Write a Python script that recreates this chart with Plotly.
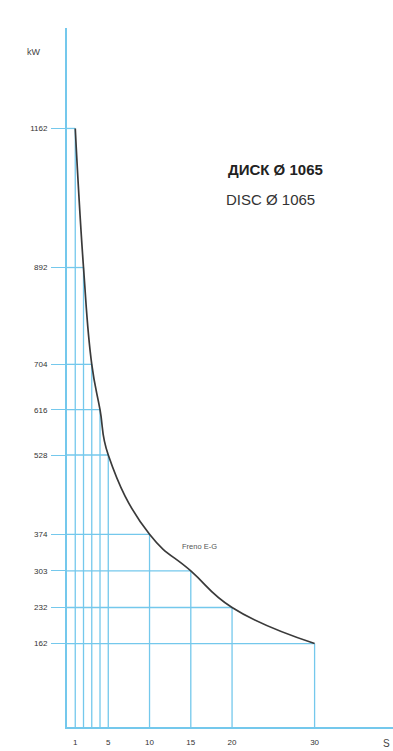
import plotly.graph_objects as go

# Data
seconds = [1, 2, 3, 4, 5, 10, 15, 20, 30]
power_kw = [1162, 892, 704, 616, 528, 374, 303, 232, 162]
x_tick_vals = [1, 5, 10, 15, 20, 30]
x_tick_text = ["1", "5", "10", "15", "20", "30"]
y_tick_vals = power_kw
y_tick_text = [str(v) for v in power_kw]

GRID = "#74c8ec"
INK = "#3a3a3a"

# drop lines: horizontal from axis to point, vertical from base to point
hx, hy, vx, vy = [], [], [], []
for s, p in zip(seconds, power_kw):
    hx += [0, s, None]
    hy += [p, p, None]
    vx += [s, s, None]
    vy += [0, p, None]

fig = go.Figure()
fig.add_trace(go.Scatter(x=hx, y=hy, mode="lines", line=dict(color=GRID, width=1.3),
                         hoverinfo="skip", showlegend=False))
fig.add_trace(go.Scatter(x=vx, y=vy, mode="lines", line=dict(color=GRID, width=1.3),
                         hoverinfo="skip", showlegend=False))
fig.add_trace(go.Scatter(x=seconds, y=power_kw, mode="lines",
                         line=dict(color=INK, width=1.7, shape="spline", smoothing=1.3),
                         name="Freno E-G", showlegend=False))

fig.update_layout(
    width=393, height=751,
    margin=dict(l=67, r=0, t=28, b=24),
    paper_bgcolor="white", plot_bgcolor="white",
    font=dict(family="Liberation Sans, Arial, sans-serif", color="#444"),
    xaxis=dict(range=[0, 39.5], showgrid=False, zeroline=False,
               showline=True, linecolor=GRID, linewidth=2,
               tickvals=x_tick_vals, ticktext=x_tick_text, ticks="",
               tickfont=dict(size=8, color="#333"), ticklabelstandoff=6,
               fixedrange=True),
    yaxis=dict(range=[0, 1357], showgrid=False, zeroline=False,
               showline=True, linecolor=GRID, linewidth=2,
               tickvals=y_tick_vals, ticktext=y_tick_text,
               ticks="outside", ticklen=14, tickcolor=GRID, tickwidth=1.3,
               tickfont=dict(size=8, color="#333"), ticklabelstandoff=2,
               fixedrange=True),
    annotations=[
        dict(text="kW", xref="paper", yref="paper", x=-0.13, y=0.976,
             showarrow=False, font=dict(size=9, color="#444")),
        dict(text="S", xref="paper", yref="paper", x=0.98, y=-0.013,
             xanchor="center", yanchor="top", showarrow=False,
             font=dict(size=10, color="#444")),
        dict(text="<b>ДИСК Ø 1065</b>", xref="paper", yref="paper",
             x=0.64, y=0.813, xanchor="center", showarrow=False,
             font=dict(size=15, color="#222")),
        dict(text="DISC Ø 1065", xref="paper", yref="paper",
             x=0.625, y=0.770, xanchor="center", showarrow=False,
             font=dict(size=15, color="#333")),
        dict(text="Freno E-G", xref="x", yref="y", x=16, y=350,
             showarrow=False, font=dict(size=7.5, color="#555")),
    ],
)

fig.write_html("out.html", config={"displayModeBar": False},
               post_script="document.body.style.margin='0';")
